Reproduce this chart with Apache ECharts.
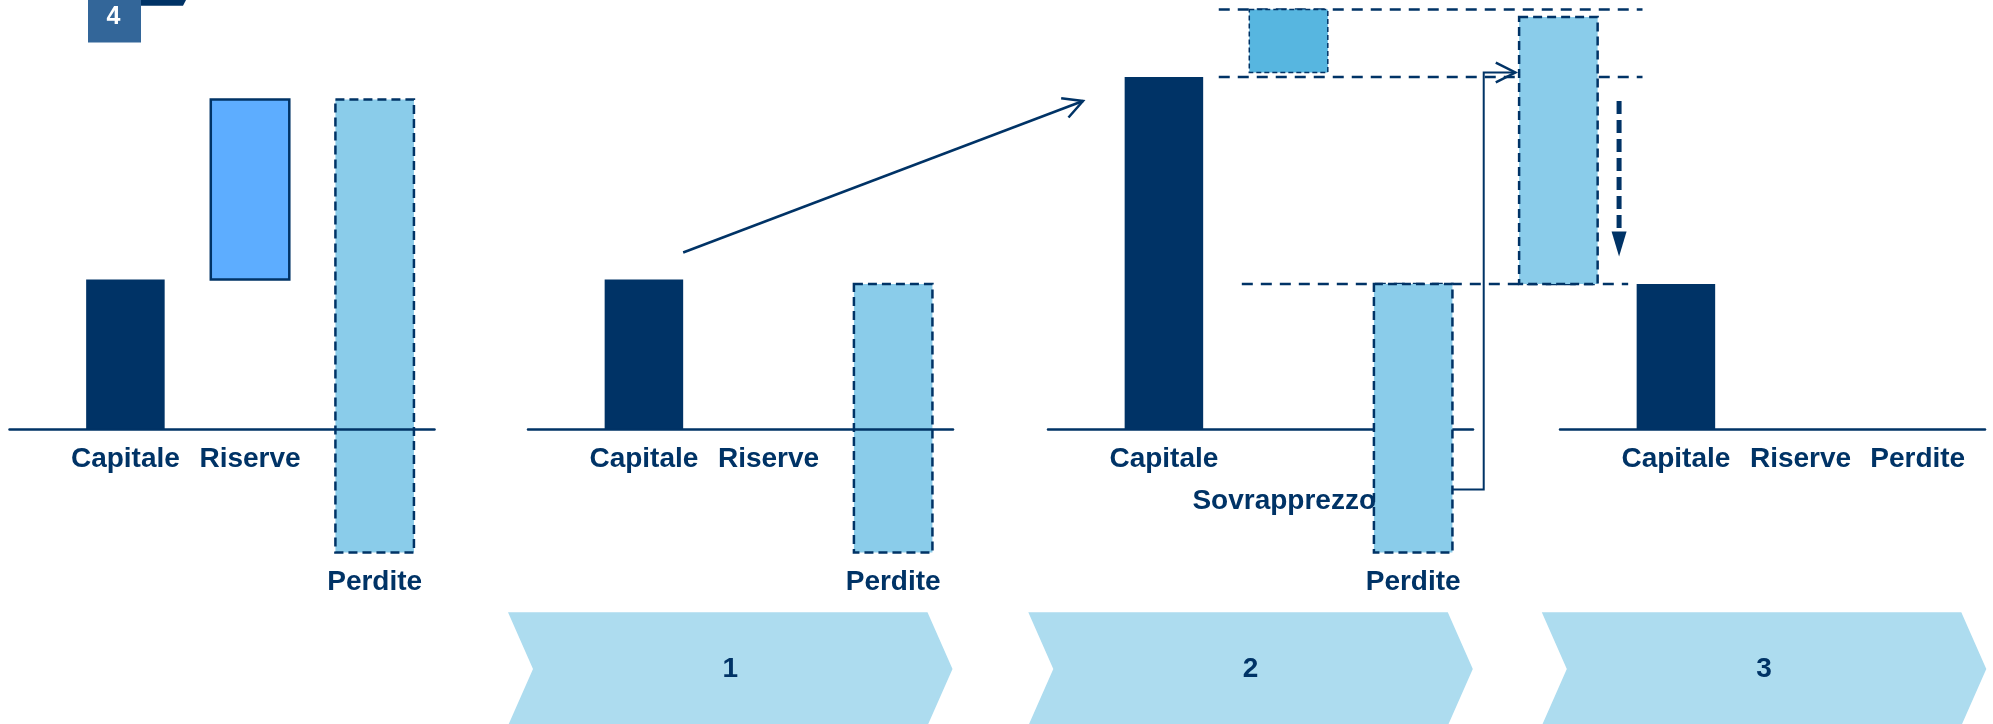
<!DOCTYPE html>
<html>
<head>
<meta charset="utf-8">
<script src="https://cdn.jsdelivr.net/npm/echarts@6/dist/echarts.min.js"></script>
<style>
  html, body { margin: 0; padding: 0; background: #ffffff; }
  #chart { width: 1993px; height: 724px; }
</style>
</head>
<body>
<div id="chart"></div>
<script>
// ---- Balance items for each stage (bar bottom / bar top, same units) ----
const stage0Names = ['Capitale', 'Riserve', 'Perdite'];
const stage0Low   = [0, 100, -82];
const stage0High  = [100, 220, 220];

const stage1Names = ['Capitale', 'Riserve', 'Perdite'];
const stage1Low   = [0, null, -82];
const stage1High  = [100, null, 97];

const stage2Names = ['Capitale', 'Sovrapprezzo', 'Perdite', ''];
const stage2Low   = [0, 238, -82, 97];
const stage2High  = [235, 280, 97, 275];

const stage3Names = ['Capitale', 'Riserve', 'Perdite'];
const stage3Low   = [0, null, null];
const stage3High  = [97, null, null];

const stepLabels = ['1', '2', '3'];
const badgeLabel = '4';

// ---- Styling / layout ----
const NAVY = '#003366';
const FONT_FAMILY = '"Liberation Sans", Arial, Helvetica, sans-serif';
const STYLES = {
  capitale:     { fill: NAVY },
  riserve:      { fill: '#5DADFF', stroke: NAVY, lineWidth: 2.5 },
  perdite:      { fill: '#8ACCEA', stroke: NAVY, lineWidth: 2.5, lineDash: [9, 5] },
  sovrapprezzo: { fill: '#57B6E0', stroke: NAVY, lineWidth: 1.5, lineDash: [5, 3] }
};

const GRID_LEFTS = [9.5, 528, 1048, 1560];
const GRID_W = 425, GRID_TOP = 9.5, GRID_H = 570;
const X_MIN = 0.07, X_MAX = 3.48;      // slot units
const Y_MIN = -100, Y_MAX = 280;       // amount units
const BAR_SLOT = 0.63;                 // bar width as share of one slot

const stages = [
  { names: stage0Names, low: stage0Low, high: stage0High,
    kinds: ['capitale', 'riserve', 'perdite'], slots: [1, 2, 3],
    labelSlots: [1, 2, 3], labelRows: [0, 0, 0], axisOnTop: true },
  { names: stage1Names, low: stage1Low, high: stage1High,
    kinds: ['capitale', 'riserve', 'perdite'], slots: [1, 2, 3],
    labelSlots: [1, 2, 3], labelRows: [0, 0, 0], axisOnTop: true },
  { names: stage2Names, low: stage2Low, high: stage2High,
    kinds: ['capitale', 'sovrapprezzo', 'perdite', 'perdite'], slots: [1, 2, 3, 4.165],
    labelSlots: [1, 1.965, 3, null], labelRows: [0, 1, 0, 0], axisOnTop: false },
  { names: stage3Names, low: stage3Low, high: stage3High,
    kinds: ['capitale', 'riserve', 'perdite'], slots: [1, 2, 3],
    labelSlots: [1, 2, 2.94], labelRows: [0, 0, 0], axisOnTop: false }
];

// open arrow head (two arms) at tip, pointing away from `from`
function openHead(tip, from, len, angDeg) {
  const a = Math.atan2(from[1] - tip[1], from[0] - tip[0]);
  const d = angDeg * Math.PI / 180;
  return [
    [tip[0] + len * Math.cos(a + d), tip[1] + len * Math.sin(a + d)],
    tip,
    [tip[0] + len * Math.cos(a - d), tip[1] + len * Math.sin(a - d)]
  ];
}

const grids = [], xAxes = [], yAxes = [], series = [];

stages.forEach((st, g) => {
  grids.push({ left: GRID_LEFTS[g], top: GRID_TOP, width: GRID_W, height: GRID_H });
  xAxes.push({
    gridIndex: g, type: 'value', min: X_MIN, max: X_MAX, z: st.axisOnTop ? 5 : 0,
    axisLine: { show: true, onZero: true, lineStyle: { color: NAVY, width: 2.5 } },
    axisTick: { show: false }, axisLabel: { show: false }, splitLine: { show: false }
  });
  yAxes.push({
    gridIndex: g, type: 'value', min: Y_MIN, max: Y_MAX, show: false,
    splitLine: { show: false }
  });

  // floating bars
  const barData = [], barKinds = [];
  st.names.forEach((n, i) => {
    if (st.low[i] == null) return;
    barData.push([st.slots[i], st.low[i], st.high[i]]);
    barKinds.push(st.kinds[i]);
  });
  series.push({
    type: 'custom', xAxisIndex: g, yAxisIndex: g, clip: false, z: 2,
    silent: true, animation: false,
    data: barData,
    renderItem: function (params, api) {
      const x = api.value(0), lo = api.value(1), hi = api.value(2);
      const pTop = api.coord([x, hi]);
      const pBot = api.coord([x, lo]);
      const w = api.size([BAR_SLOT, 0])[0];
      return {
        type: 'rect',
        shape: { x: pTop[0] - w / 2, y: pTop[1], width: w, height: pBot[1] - pTop[1] },
        style: Object.assign({}, STYLES[barKinds[params.dataIndex]])
      };
    }
  });

  // item names under the axis (or under the bar when it reaches below zero)
  const labelData = [], labelText = [], labelRow = [];
  st.names.forEach((n, i) => {
    if (!n || st.labelSlots[i] == null) return;
    const level = st.low[i] == null ? 0 : Math.min(0, st.low[i]);
    labelData.push([st.labelSlots[i], level]);
    labelText.push(n);
    labelRow.push(st.labelRows[i]);
  });
  series.push({
    type: 'custom', xAxisIndex: g, yAxisIndex: g, clip: false, z: 6,
    silent: true, animation: false,
    data: labelData,
    renderItem: function (params, api) {
      const p = api.coord([api.value(0), api.value(1)]);
      return {
        type: 'text',
        x: p[0], y: p[1] + 30 + labelRow[params.dataIndex] * 42,
        style: {
          text: labelText[params.dataIndex],
          fill: NAVY, fontSize: 28, fontWeight: 'bold', fontFamily: FONT_FAMILY,
          align: 'center', verticalAlign: 'middle'
        }
      };
    }
  });
});

// stage 1 -> stage 2: arrow rising from the capital bar
series.push({
  type: 'custom', xAxisIndex: 1, yAxisIndex: 1, clip: false, z: 4,
  silent: true, animation: false, data: [[1, 0]],
  renderItem: function (params, api) {
    const a = api.coord([1.315, 118]);
    const b = api.coord([4.523, 219]);
    return {
      type: 'group', children: [
        { type: 'polyline', shape: { points: [a, b] }, style: { stroke: NAVY, lineWidth: 2.5, fill: null } },
        { type: 'polyline', shape: { points: openHead(b, a, 22, 28) }, style: { stroke: NAVY, lineWidth: 2.5, fill: null } }
      ]
    };
  }
});

// stage 2: dashed reference levels behind the bars
series.push({
  type: 'custom', xAxisIndex: 2, yAxisIndex: 2, clip: false, z: 1,
  silent: true, animation: false,
  data: [[1.44, 4.84, stage2High[1]], [1.44, 4.84, stage2High[0]], [1.625, 4.725, stage2Low[3]]],
  renderItem: function (params, api) {
    const lv = api.value(2);
    const a = api.coord([api.value(0), lv]);
    const b = api.coord([api.value(1), lv]);
    return {
      type: 'line', shape: { x1: a[0], y1: a[1], x2: b[0], y2: b[1] },
      style: { stroke: NAVY, lineWidth: 2.5, lineDash: [11, 8] }
    };
  }
});

// stage 2: losses moved on top of the new capital
series.push({
  type: 'custom', xAxisIndex: 2, yAxisIndex: 2, clip: false, z: 4,
  silent: true, animation: false, data: [[1, 0]],
  renderItem: function (params, api) {
    const lvl = stage2Low[1];
    const pts = [
      api.coord([3.315, -40]), api.coord([3.566, -40]),
      api.coord([3.566, lvl]), api.coord([3.82, lvl])
    ];
    const tip = pts[3];
    return {
      type: 'group', children: [
        { type: 'polyline', shape: { points: pts }, style: { stroke: NAVY, lineWidth: 2, fill: null } },
        { type: 'polyline', shape: { points: openHead(tip, pts[2], 22, 27) }, style: { stroke: NAVY, lineWidth: 2.5, fill: null } }
      ]
    };
  }
});

// stage 3: dashed arrow pointing down to the reduced capital
series.push({
  type: 'custom', xAxisIndex: 3, yAxisIndex: 3, clip: false, z: 4,
  silent: true, animation: false, data: [[1, 0]],
  renderItem: function (params, api) {
    const top = api.coord([0.544, 219]);
    const base = api.coord([0.544, 132]);
    const tip = api.coord([0.544, 115.4]);
    return {
      type: 'group', children: [
        { type: 'line', shape: { x1: top[0], y1: top[1], x2: base[0], y2: base[1] },
          style: { stroke: NAVY, lineWidth: 5, lineDash: [13, 6] } },
        { type: 'polygon', shape: { points: [[base[0] - 7.5, base[1]], [base[0] + 7.5, base[1]], [tip[0], tip[1]]] },
          style: { fill: NAVY } }
      ]
    };
  }
});

// step chevrons and corner badge
const CHEVRON_LEFTS = [508, 1028.3, 1541.8];
const graphics = [];
CHEVRON_LEFTS.forEach((L, i) => {
  const top = 612.3, mid = 669, bot = 725.7, w = 444.5, s = 25;
  graphics.push({
    type: 'polygon', silent: true, z: 1,
    shape: { points: [[L, top], [L + w - s, top], [L + w, mid], [L + w - s, bot], [L, bot], [L + s, mid]] },
    style: { fill: '#ADDCEF' }
  });
  graphics.push({
    type: 'text', silent: true, z: 2, x: L + w / 2, y: mid,
    style: { text: stepLabels[i], fill: NAVY, fontSize: 28, fontWeight: 'bold', fontFamily: FONT_FAMILY,
             align: 'center', verticalAlign: 'middle' }
  });
});
graphics.push({
  type: 'polygon', silent: true, z: 1,
  shape: { points: [[141, 0], [186, 0], [183, 5.7], [141, 5.7]] },
  style: { fill: NAVY }
});
graphics.push({
  type: 'rect', silent: true, z: 1,
  shape: { x: 88, y: 0, width: 53, height: 42.5 },
  style: { fill: '#336699' }
});
graphics.push({
  type: 'text', silent: true, z: 2, x: 113.5, y: 17.5,
  style: { text: badgeLabel, fill: '#ffffff', fontSize: 25, fontWeight: 'bold', fontFamily: FONT_FAMILY,
           align: 'center', verticalAlign: 'middle' }
});

const chart = echarts.init(document.getElementById('chart'));
chart.setOption({
  animation: false,
  backgroundColor: '#ffffff',
  grid: grids,
  xAxis: xAxes,
  yAxis: yAxes,
  series: series,
  graphic: { elements: graphics }
});
</script>
</body>
</html>
